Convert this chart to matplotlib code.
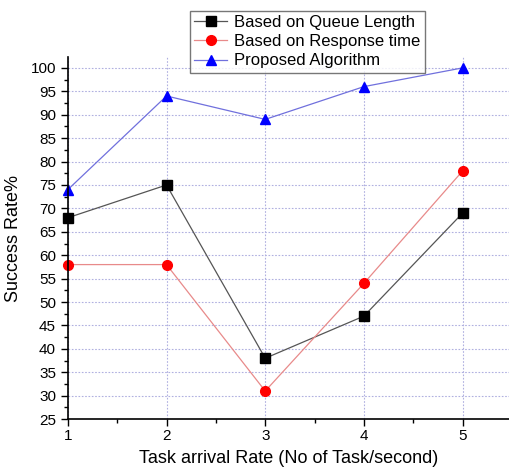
import matplotlib
matplotlib.use("Agg")
import matplotlib.pyplot as plt
from matplotlib.ticker import MultipleLocator

plt.rcParams['font.family'] = ['Liberation Sans', 'DejaVu Sans']

x = [1, 2, 3, 4, 5]
queue = [68, 75, 38, 47, 69]
response = [58, 58, 31, 54, 78]
proposed = [74, 94, 89, 96, 100]
yticks = list(range(25, 101, 5))

fig = plt.figure(figsize=(5.1, 4.72), dpi=100)
ax = fig.add_axes([0.133, 0.112, 0.867, 0.767])

l1, = ax.plot(x, queue, color='#555555', lw=0.9, marker='s', ms=7, mfc='black', mec='black', label='Based on Queue Length')
l2, = ax.plot(x, response, color='#e88a8a', lw=0.9, marker='o', ms=7, mfc='red', mec='red', label='Based on Response time')
l3, = ax.plot(x, proposed, color='#7070dd', lw=0.9, marker='^', ms=7.5, mfc='blue', mec='blue', label='Proposed Algorithm')
for l in (l1, l2, l3):
    l.set_clip_on(False)

ax.set_xlim(1, 5.48)
ax.set_ylim(25, 102.3)
ax.set_xticks(x)
ax.set_yticks(yticks)
ax.xaxis.set_minor_locator(MultipleLocator(0.5))
ax.yaxis.set_minor_locator(MultipleLocator(2.5))
ax.tick_params(axis='both', which='major', direction='out', length=5, width=1, labelsize=11)
ax.tick_params(axis='x', which='major', pad=2)
ax.tick_params(axis='both', which='minor', direction='out', length=3, width=1)
ax.spines['top'].set_visible(False)
ax.spines['right'].set_visible(False)
ax.spines['left'].set_linewidth(1.2)
ax.spines['bottom'].set_linewidth(1.2)
ax.grid(True, which='major', color='#b0b0e0', linestyle=(0, (1.5, 1.5)), lw=0.8)
ax.set_axisbelow(True)

ax.set_xlabel('Task arrival Rate (No of Task/second)', fontsize=13, labelpad=5)
ax.set_ylabel('Success Rate%', fontsize=13, labelpad=6)

leg = fig.legend(handles=[l1, l2, l3], loc='upper left', bbox_to_anchor=(190/510, 1 - 11/472),
                 fontsize=12, frameon=True, fancybox=False, edgecolor='#555555',
                 handlelength=2.0, borderpad=0.25, labelspacing=0.25, handletextpad=0.4, borderaxespad=0)
leg.get_frame().set_linewidth(1.0)

fig.savefig('out.png', dpi=100)
